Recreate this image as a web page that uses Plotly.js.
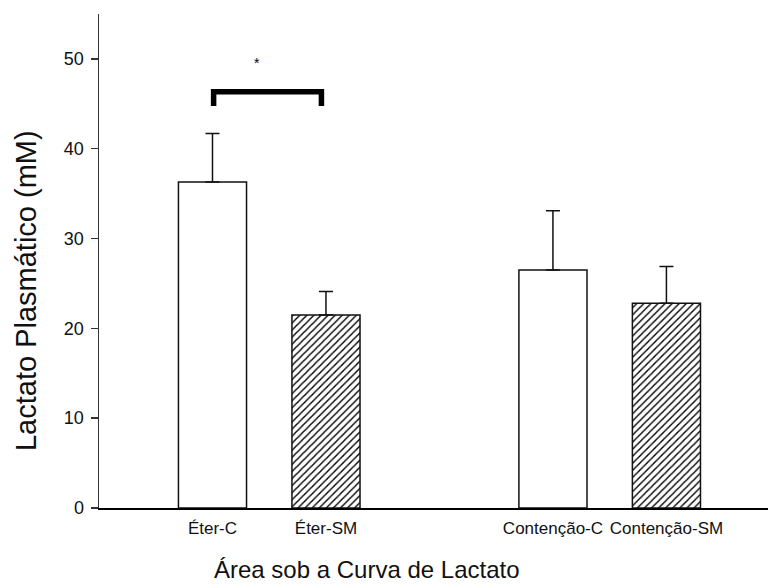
<!DOCTYPE html>
<html>
<head>
<meta charset="utf-8">
<script src="https://cdn.plot.ly/plotly-3.0.1.min.js"></script>
<style>html,body{margin:0;padding:0;background:#fff;}#chart{width:768px;height:585px;}</style>
</head>
<body>
<div id="chart"></div>
<script>
// Data
const categories = ["Éter-C", "Éter-SM", "Contenção-C", "Contenção-SM"];
const positions = [1, 2, 4, 5];
const meanValues = [36.3, 21.5, 26.5, 22.8];
const errorPlus = [5.4, 2.6, 6.6, 4.1];
const hatched = [false, true, false, true];
const sigBracketX = [1.01, 1.01, 1.96, 1.96];
const sigBracketY = [44.75, 46.35, 46.35, 44.75];
const sigLabel = "*";
const sigLabelPos = [1.395, 49.6];

const FONT = '"Liberation Sans", Arial, Helvetica, sans-serif';

const trace = {
  type: 'bar',
  x: positions,
  y: meanValues,
  width: 0.6,
  marker: {
    color: '#ffffff',
    line: {color: '#111111', width: 1.5},
    pattern: {
      shape: hatched.map(h => h ? '/' : ''),
      fgcolor: '#000000',
      bgcolor: '#ffffff',
      size: 5,
      solidity: 0.28
    }
  },
  error_y: {
    type: 'data',
    symmetric: false,
    array: errorPlus,
    arrayminus: errorPlus.map(() => 0),
    color: '#111111',
    thickness: 1.5,
    width: 7
  },
  hoverinfo: 'skip'
};

const bracketPath = 'M ' + sigBracketX.map((x, i) => x + ',' + sigBracketY[i]).join(' L ');

const layout = {
  width: 768,
  height: 585,
  margin: {l: 99, r: 0, t: 14, b: 77},
  paper_bgcolor: '#ffffff',
  plot_bgcolor: '#ffffff',
  showlegend: false,
  font: {family: FONT, color: '#000000'},
  xaxis: {
    range: [0, 5.895],
    tickvals: positions,
    ticktext: categories,
    ticks: '',
    ticklabelstandoff: 4,
    showgrid: false,
    zeroline: false,
    showline: true,
    linecolor: '#000000',
    linewidth: 2,
    tickfont: {family: FONT, size: 17, color: '#111111'},
    fixedrange: true
  },
  yaxis: {
    range: [0, 55],
    tickvals: [0, 10, 20, 30, 40, 50],
    ticks: 'outside',
    ticklen: 7,
    tickwidth: 1.5,
    tickcolor: '#333333',
    ticklabelstandoff: 3,
    showgrid: false,
    zeroline: false,
    showline: true,
    linecolor: '#333333',
    linewidth: 1.5,
    tickfont: {family: FONT, size: 18, color: '#111111'},
    fixedrange: true
  },
  shapes: [{
    type: 'path',
    xref: 'x', yref: 'y',
    path: bracketPath,
    line: {color: '#000000', width: 5.5}
  }],
  annotations: [{
    x: sigLabelPos[0], y: sigLabelPos[1],
    xref: 'x', yref: 'y',
    text: sigLabel,
    showarrow: false,
    font: {family: FONT, size: 14, color: '#000000'}
  }, {
    xref: 'paper', yref: 'paper',
    x: 0.401, y: -0.125,
    xanchor: 'center', yanchor: 'middle',
    text: 'Área sob a Curva de Lactato',
    showarrow: false,
    font: {family: FONT, size: 24, color: '#111111'}
  }, {
    xref: 'paper', yref: 'paper',
    x: -0.11, y: 0.44,
    xanchor: 'center', yanchor: 'middle',
    textangle: -90,
    text: 'Lactato Plasmático (mM)',
    showarrow: false,
    font: {family: FONT, size: 29, color: '#111111'}
  }]
};

Plotly.newPlot('chart', [trace], layout, {displayModeBar: false, staticPlot: true});
</script>
</body>
</html>
